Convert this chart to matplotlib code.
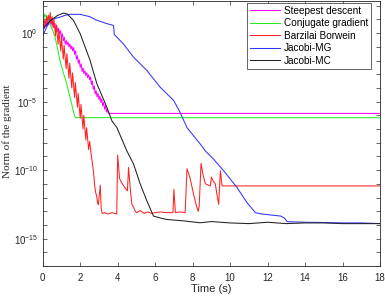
import numpy as np
import matplotlib
matplotlib.use("Agg")
import matplotlib.pyplot as plt
from matplotlib.ticker import FixedLocator, LogFormatterSciNotation, NullFormatter

# ---- data (log10 of gradient norm vs time) ----
sd_t = [0.00,0.05,0.10,0.15,0.20,0.25,0.30,0.35,0.40,0.45,0.50,0.55,0.60,0.65,0.70,0.75,0.80,0.85,0.90,0.95,
        1.00,1.05,1.10,1.15,1.20,1.25,1.30,1.35,1.40,1.45,1.50,1.55,1.60,1.65,1.70,1.75,1.80,1.85,1.90,1.95,
        2.00,2.05,2.10,2.15,2.20,2.25,2.30,2.35,2.40,2.45,2.50,2.55,2.60,2.65,2.70,2.75,2.80,2.85,2.90,2.95,
        3.00,3.05,3.10,3.15,3.20,3.25,3.30,3.35,3.40,3.45,3.50,18.0]
sd_log = [0.30,0.70,0.35,0.90,0.50,1.00,0.60,1.05,0.65,0.95,0.55,0.85,0.40,0.70,0.25,0.55,0.10,0.35,-0.05,0.15,
          -0.30,-0.05,-0.55,-0.30,-0.80,-0.55,-0.85,-0.65,-1.00,-0.80,-1.15,-0.95,-1.30,-1.05,-1.55,-1.30,-1.90,-1.65,-2.20,-1.95,
          -2.50,-2.25,-2.80,-2.55,-2.95,-2.75,-3.10,-2.90,-3.25,-3.05,-3.40,-3.20,-3.75,-3.50,-4.10,-3.85,-4.45,-4.20,-4.65,-4.40,
          -4.85,-4.60,-5.05,-4.80,-5.30,-5.05,-5.55,-5.30,-5.75,-5.55,-5.86,-5.86]

cg_t = [0, 0.05, 0.1, 0.15, 0.2, 0.3, 0.4, 0.5, 0.66, 0.8, 0.92, 1.1, 1.28, 1.42, 1.55, 1.65, 1.73, 18]
cg_log = [0.4, 0.9, 1.4, 1.2, 1.3, 1.0, 0.6, 0.3, -0.3, -1.2, -2.0, -2.9, -3.7, -4.5, -5.2, -5.8, -6.17, -6.17]

bb_t = [0.0,0.1,0.15,0.2,0.25,0.3,0.35,0.4,0.45,0.5,0.55,0.6,0.68,0.72,0.82,0.86,0.96,1.0,1.1,1.14,
        1.25,1.29,1.4,1.44,1.55,1.59,1.7,1.74,1.85,1.89,2.0,2.04,2.15,2.19,2.3,2.34,2.45,2.5,2.6,2.7,
        2.78,2.82,2.88,2.93,2.97,3.02,3.07,3.12,3.17,3.3,3.5,3.7,3.95,4.0,4.1,4.2,4.3,4.45,4.52,4.58,
        4.68,4.76,4.85,4.9,5.0,5.2,5.4,5.6,5.8,6.0,6.3,6.6,6.95,7.0,7.08,7.3,7.6,7.7,7.85,8.05,
        8.2,8.3,8.35,8.45,8.55,8.68,8.95,9.0,9.1,9.21,9.3,9.39,9.48,9.57,18.0]
bb_log = [0.5,0.9,0.6,1.2,0.8,1.3,0.9,1.5,0.7,1.2,0.4,1.0,-0.2,0.6,-0.8,0.2,-1.3,-0.3,-1.9,-0.9,
          -2.6,-1.5,-3.3,-2.2,-4.0,-2.9,-4.7,-3.6,-5.4,-4.4,-6.2,-5.2,-7.0,-6.0,-7.8,-6.9,-8.5,-7.9,-9.0,-10.0,
          -11.2,-11.6,-11.9,-12.4,-12.5,-11.8,-11.1,-12.8,-13.15,-13.1,-13.2,-13.1,-13.2,-8.9,-10.6,-10.9,-11.1,-11.4,-11.5,-9.8,
          -11.5,-12.5,-12.7,-12.9,-13.1,-12.95,-13.15,-13.05,-13.15,-13.1,-13.05,-13.1,-13.1,-11.4,-13.1,-13.05,-13.1,-9.9,-10.5,-11.75,
          -12.6,-13.0,-12.6,-9.5,-10.3,-11.0,-11.15,-10.5,-10.8,-11.0,-11.8,-12.5,-10.05,-11.15,-11.15]

mg_t = [0, 0.1, 0.2, 0.3, 0.39, 0.6, 0.93, 1.2, 1.46, 2.0, 2.5, 2.9, 3.4, 3.78, 3.82, 3.87, 4.3, 4.85, 5.56, 6.27,
        6.98, 7.3, 7.7, 8.41, 8.68, 9.12, 9.66, 10.37, 10.9, 11.35, 11.7, 12.7, 12.9, 13.05, 14, 15, 16, 17, 18]
mg_log = [-0.2, 0.1, 0.4, 0.7, 0.93, 1.05, 1.17, 1.3, 1.37, 1.37, 1.2, 0.93, 0.7, 0.56, -0.1, -0.17, -0.78, -1.76, -2.73, -3.95,
          -4.9, -5.7, -6.9, -8.1, -8.6, -9.2, -10.05, -11.27, -12.37, -13.1, -13.2, -13.35, -13.5, -13.76, -13.8, -13.82, -13.85, -13.85, -13.9]

mc_t = [0, 0.2, 0.4, 0.6, 0.8, 1.0, 1.1, 1.3, 1.64, 2.0, 2.53, 2.89, 3.42, 3.69, 3.96, 4.49, 4.85, 5.2, 5.56, 5.91,
        6.3, 6.63, 7.52, 8.4, 9, 10, 11, 12, 13, 14, 15, 16, 17, 18]
mc_log = [0.3, 0.6, 0.9, 1.1, 1.3, 1.4, 1.46, 1.4, 0.93, -0.05, -2.0, -3.7, -5.4, -6.4, -6.9, -8.6, -9.56, -11.0, -12.25, -13.35,
          -13.5, -13.6, -13.7, -13.84, -13.75, -13.85, -13.9, -13.8, -13.9, -13.85, -13.85, -13.9, -13.9, -13.9]

series = [
    ("Steepest descent", sd_t, sd_log, "#ff00ff"),
    ("Conjugate gradient", cg_t, cg_log, "#22ee22"),
    ("Barzilai Borwein", bb_t, bb_log, "#ff2222"),
    ("Jacobi-MG", mg_t, mg_log, "#3333ff"),
    ("Jacobi-MC", mc_t, mc_log, "#222222"),
]

x_ticks = [0, 2, 4, 6, 8, 10, 12, 14, 16, 18]

plt.rcParams['font.family'] = ['Liberation Sans', 'DejaVu Sans']
fig = plt.figure(figsize=(3.85, 3.0), dpi=100)
ax = fig.add_axes([0.111, 0.113, 0.876, 0.884])

for name, t, lg, c in series:
    ax.plot(t, 10.0 ** np.array(lg), color=c, lw=0.75, label=name)

ax.set_yscale('log')
ax.set_xlim(0, 18)
ax.set_ylim(1e-17, 10 ** 2.35)
ax.set_xticks(x_ticks)
ax.yaxis.set_major_locator(FixedLocator([1e-15, 1e-10, 1e-5, 1e0]))
ax.yaxis.set_major_formatter(LogFormatterSciNotation())
ax.yaxis.set_minor_locator(FixedLocator([10.0 ** k for k in range(-17, 3)]))
ax.yaxis.set_minor_formatter(NullFormatter())

axc = (0.15, 0.15, 0.15)
for s in ax.spines.values():
    s.set_color(axc)
    s.set_linewidth(0.6)
ax.tick_params(which='both', direction='in', top=True, right=True, colors=axc,
               labelsize=7, width=0.5)
ax.tick_params(which='major', length=3)
ax.tick_params(which='minor', length=3)
ax.tick_params(axis='x', pad=5)

ax.set_xlabel('Time (s)', fontsize=8, color=axc, labelpad=1)
ax.set_ylabel('Norm of the gradient', fontsize=8, family=['Liberation Serif', 'DejaVu Serif'],
              color=axc)
ax.yaxis.set_label_coords(-0.092, 0.51)

leg = ax.legend(loc='upper right', bbox_to_anchor=(0.973, 0.993), fontsize=7.2,
                frameon=True, fancybox=False, edgecolor=axc, framealpha=1,
                handlelength=3.0, handletextpad=0.4, borderpad=0.3, labelspacing=0.25,
                borderaxespad=0)
leg.get_frame().set_linewidth(0.5)

fig.savefig('out.png', dpi=100)
